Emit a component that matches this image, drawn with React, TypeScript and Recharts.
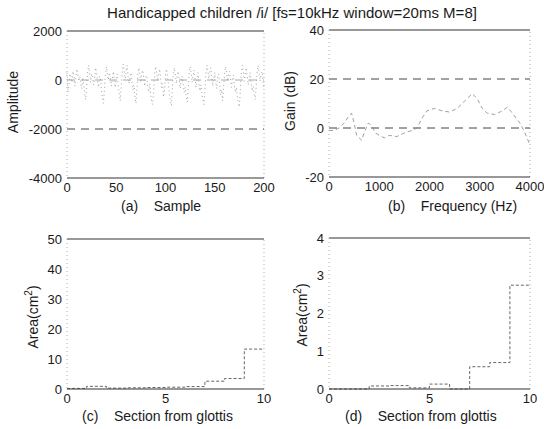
import React from 'react'
import { LineChart, Line, XAxis, YAxis, ReferenceLine } from 'recharts'

const FONT = '"Liberation Sans", Arial, sans-serif'

// (a) speech waveform, one value per sample 0..200
const waveform = [
  300, -500, -200, 250, 150, -100, 350, 200, -250, 100,
  450, 250, -50, 150, -150, -350, 100, -200, -600, -800,
  -300, 350, 600, 300, -100, 250, 150, -200, 50, 500,
  300, -100, -300, 150, 50, -450, -700, -950, -400, 200,
  550, 250, 0, 300, 100, -250, 50, 350, -50, -300,
  100, 250, -200, -550, -850, -300, 300, 650, 400, 50,
  350, 600, 150, -150, 100, 300, -100, -400, -200, -700,
  -950, -350, 250, 500, 200, -100, 300, 400, 50, -250,
  150, 200, -300, -500, -150, -600, -900, -1000, -350, 250,
  550, 300, -50, 200, 450, 100, -300, -150, -700, -450,
  200, 450, 150, -200, -600, -850, -1050, -300, 300, 500,
  200, -150, 250, 350, -50, -350, 100, 150, -200, -500,
  -300, -650, -900, -400, 250, 550, 300, -100, 200, 400,
  50, -300, 100, 300, -150, -450, -200, -550, -800, -1000,
  -400, 250, 600, 400, 50, 350, 500, 100, -250, 50,
  300, -100, -350, 150, 250, -200, -600, -400, -850, -300,
  250, 550, 300, -50, 200, 350, 0, -300, 100, 200,
  -250, -500, -300, -700, -950, -1100, -400, 300, 600, 350,
  -50, 250, 500, 150, -200, 100, 300, -150, -450, -250,
  -600, -800, -300, 350, 600, 300, -50, 200, 350, -100,
  -300,
]

// (b) gain response
const freqs = [0, 100, 200, 300, 400, 450, 500, 550, 650, 700, 780, 850, 920, 1000, 1100, 1200, 1350, 1500, 1650, 1750, 1850, 1950, 2100, 2250, 2400, 2550, 2700, 2850, 2950, 3050, 3150, 3300, 3450, 3550, 3650, 3800, 3900, 4000]
const gains = [-1, -1, 0, 2, 5, 6, 2, -3, -5, -2, 2, 1, -2, -3, -4, -3, -3.5, -2, -1, 0, 4, 7, 8, 7, 6.5, 8, 11, 14, 12, 8, 6, 5.5, 7, 8.5, 6, 2, -2, -7]

// (c), (d) vocal tract area per section from glottis
const sections = [0, 1, 2, 3, 4, 5, 6, 7, 8, 9, 10]
const areaC = [0.2, 0.9, 0.3, 0.4, 0.5, 0.6, 0.8, 2.6, 3.5, 13.3, 13.3]
const areaD = [0.0, 0.0, 0.08, 0.09, 0.03, 0.13, 0.0, 0.59, 0.7, 2.75, 2.75]

const waveData = waveform.map((v, i) => ({ x: i, y: v }))
const gainData = freqs.map((f, i) => ({ x: f, y: gains[i] }))
const areaCData = sections.map((s, i) => ({ x: s, y: areaC[i] }))
const areaDData = sections.map((s, i) => ({ x: s, y: areaD[i] }))

const tick = { fill: '#1a1a1a', fontSize: 13, fontFamily: FONT }

type PanelProps = {
  left: number; top: number; width: number; height: number
  margin: { top: number; right: number; bottom: number; left: number }
  data: { x: number; y: number }[]
  xDomain: [number, number]; xTicks: number[]
  yDomain: [number, number]; yTicks: number[]
  grid?: { y: number; color: string }[]
  step?: boolean
  lineStroke: string; dash?: string; lineWidth?: number
}

function Panel(p: PanelProps) {
  return (
    <div style={{ position: 'absolute', left: p.left, top: p.top }}>
      <LineChart width={p.width} height={p.height} data={p.data} margin={p.margin}>
        <XAxis dataKey="x" type="number" domain={p.xDomain} ticks={p.xTicks} height={25}
          tick={tick} tickSize={0} tickMargin={5} axisLine={{ stroke: '#333', strokeWidth: 1.2 }} />
        <YAxis type="number" domain={p.yDomain} ticks={p.yTicks} width={40}
          tick={tick} tickSize={0} tickMargin={5} axisLine={{ stroke: '#aaa', strokeDasharray: '1 3' }} />
        <ReferenceLine y={p.yDomain[1]} stroke="#333" strokeWidth={1.2} />
        <ReferenceLine x={p.xDomain[1]} stroke="#aaa" strokeDasharray="1 3" />
        {(p.grid || []).map(g => (
          <ReferenceLine key={g.y} y={g.y} stroke={g.color} strokeDasharray="8 6" />
        ))}
        <Line dataKey="y" type={p.step ? 'stepAfter' : 'linear'} stroke={p.lineStroke}
          strokeWidth={p.lineWidth ?? 0.8} strokeDasharray={p.dash} dot={false} isAnimationActive={false} />
      </LineChart>
    </div>
  )
}

function VLabel({ x, y, children }: { x: number; y: number; children: React.ReactNode }) {
  return (
    <div style={{ position: 'absolute', left: x, top: y, transform: 'translate(-50%, -50%) rotate(-90deg)',
      whiteSpace: 'nowrap', fontSize: 14, fontFamily: FONT, color: '#1a1a1a' }}>{children}</div>
  )
}

function HLabel({ x, y, tag, text }: { x: number; y: number; tag: string; text: string }) {
  return (
    <div style={{ position: 'absolute', left: x, top: y, whiteSpace: 'pre', fontSize: 14,
      fontFamily: FONT, color: '#1a1a1a', lineHeight: '16px' }}>{tag + '    ' + text}</div>
  )
}

export default function App() {
  return (
    <div style={{ position: 'absolute', left: 0, top: 0, width: 544, height: 429, background: '#fff', overflow: 'hidden' }}>
      <div style={{ position: 'absolute', left: 0, width: 584, top: 4, textAlign: 'center', fontSize: 15,
        fontFamily: FONT, color: '#1a1a1a', whiteSpace: 'nowrap' }}>
        Handicapped children /i/ [fs=10kHz window=20ms M=8]
      </div>

      <Panel left={0} top={0} width={290} height={215} margin={{ top: 31, right: 26, bottom: 12, left: 27 }}
        data={waveData} xDomain={[0, 200]} xTicks={[0, 50, 100, 150, 200]}
        yDomain={[-4000, 2000]} yTicks={[-4000, -2000, 0, 2000]}
        grid={[{ y: -2000, color: '#444' }, { y: 0, color: '#aaa' }]}
        lineStroke="#999" dash="1 3" lineWidth={0.9} />
      <Panel left={272} top={0} width={272} height={215} margin={{ top: 30, right: 14, bottom: 13, left: 17 }}
        data={gainData} xDomain={[0, 4000]} xTicks={[0, 1000, 2000, 3000, 4000]}
        yDomain={[-20, 40]} yTicks={[-20, 0, 20, 40]}
        grid={[{ y: 0, color: '#444' }, { y: 20, color: '#444' }]}
        lineStroke="#888" dash="4 3" lineWidth={0.8} />
      <Panel left={0} top={215} width={290} height={214} margin={{ top: 24, right: 26, bottom: 15, left: 27 }}
        data={areaCData} xDomain={[0, 10]} xTicks={[0, 5, 10]}
        yDomain={[0, 50]} yTicks={[0, 10, 20, 30, 40, 50]} step
        lineStroke="#666" dash="3 2" lineWidth={1} />
      <Panel left={272} top={215} width={272} height={214} margin={{ top: 23, right: 14, bottom: 15, left: 17 }}
        data={areaDData} xDomain={[0, 10]} xTicks={[0, 5, 10]}
        yDomain={[0, 4]} yTicks={[0, 1, 2, 3, 4]} step
        lineStroke="#666" dash="3 2" lineWidth={1} />

      <VLabel x={13} y={102}>Amplitude</VLabel>
      <VLabel x={290} y={101}>Gain (dB)</VLabel>
      <VLabel x={32} y={317}>Area(cm<sup style={{ fontSize: 10 }}>2</sup>)</VLabel>
      <VLabel x={301} y={315}>Area(cm<sup style={{ fontSize: 10 }}>2</sup>)</VLabel>

      <HLabel x={121} y={198} tag="(a)" text="Sample" />
      <HLabel x={388} y={198} tag="(b)" text="Frequency (Hz)" />
      <HLabel x={82} y={408} tag="(c)" text="Section from glottis" />
      <HLabel x={345} y={408} tag="(d)" text="Section from glottis" />
    </div>
  )
}
